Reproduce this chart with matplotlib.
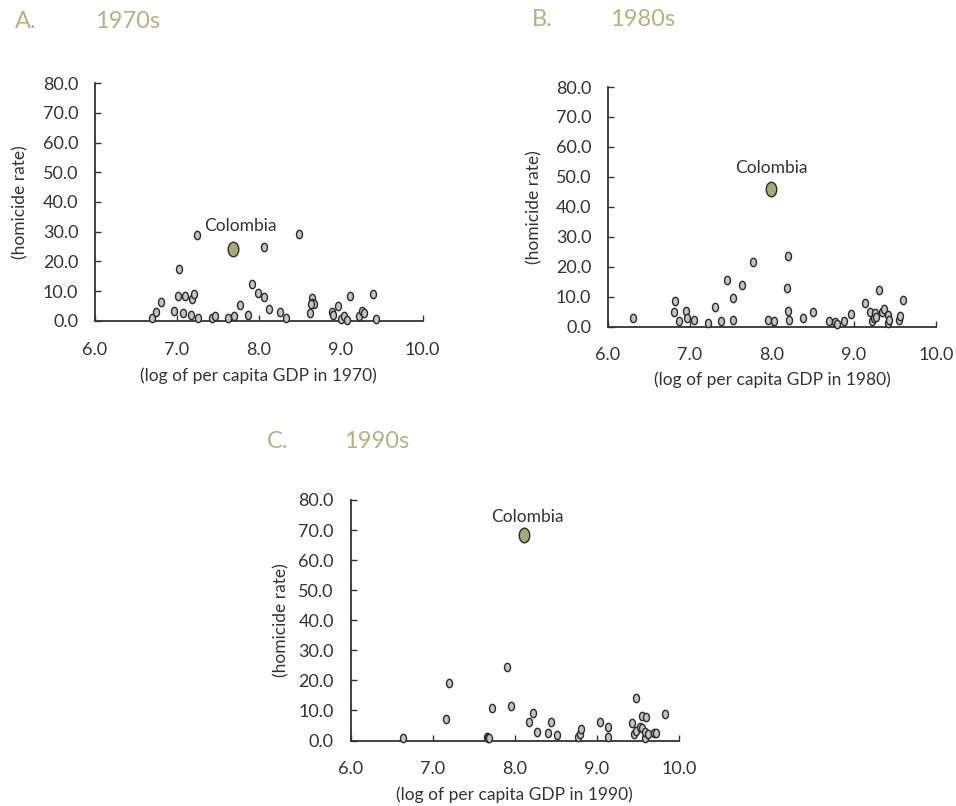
import matplotlib
matplotlib.use("Agg")
import matplotlib.pyplot as plt
from matplotlib.path import Path
from matplotlib.transforms import Affine2D

plt.rcParams['font.family'] = ['Lato', 'DejaVu Sans']

# ---------------- data ----------------
# Panel A: 1970s
gdp_1970 = [6.70, 6.74, 6.81, 6.96, 7.01, 7.02, 7.08, 7.10, 7.17, 7.19, 7.21, 7.24, 7.26,
            7.43, 7.47, 7.63, 7.70, 7.77, 7.87, 7.92, 7.99, 8.06, 8.07, 8.13, 8.26, 8.33,
            8.49, 8.62, 8.65, 8.65, 8.68, 8.64, 8.90, 8.91, 8.97, 9.01, 9.04, 9.08, 9.11,
            9.22, 9.26, 9.29, 9.39, 9.43]
hom_1970 = [1.0, 2.9, 6.2, 3.3, 8.4, 17.5, 2.5, 8.2, 1.9, 7.3, 9.0, 28.9, 0.9,
            0.8, 1.5, 0.8, 1.5, 5.3, 1.9, 12.2, 9.2, 7.9, 24.7, 3.8, 2.8, 0.9,
            29.1, 2.5, 7.7, 6.1, 5.7, 5.7, 3.0, 1.9, 4.8, 0.7, 1.6, 0.3, 8.3,
            1.6, 3.4, 2.5, 9.0, 0.6]
col_1970 = (7.69, 24.0)

# Panel B: 1980s
gdp_1980 = [6.30, 6.80, 6.82, 6.86, 6.95, 6.96, 7.05, 7.22, 7.30, 7.38, 7.45, 7.52, 7.52,
            7.63, 7.77, 7.95, 8.02, 8.18, 8.19, 8.19, 8.21, 8.38, 8.50, 8.69, 8.77, 8.79,
            8.88, 8.96, 9.14, 9.20, 9.22, 9.24, 9.26, 9.27, 9.31, 9.34, 9.37, 9.41, 9.42,
            9.43, 9.55, 9.56, 9.60]
hom_1980 = [2.7, 4.9, 8.4, 2.0, 5.1, 2.7, 2.2, 1.2, 6.5, 1.8, 15.4, 9.4, 2.2,
            13.8, 21.5, 2.3, 1.8, 12.9, 23.7, 5.1, 2.1, 2.7, 4.7, 1.9, 1.5, 0.9,
            1.9, 4.2, 7.7, 4.7, 1.7, 2.7, 4.5, 3.2, 12.3, 4.8, 5.7, 3.9, 1.3,
            2.2, 2.3, 3.5, 9.0]
col_1980 = (7.99, 45.8)

# Panel C: 1990s
gdp_1990 = [6.64, 7.16, 7.20, 7.66, 7.68, 7.69, 7.72, 7.90, 7.96, 8.17, 8.22, 8.27, 8.40,
            8.44, 8.52, 8.77, 8.80, 8.81, 9.04, 9.14, 9.14, 9.43, 9.48, 9.45, 9.48, 9.55,
            9.60, 9.53, 9.55, 9.58, 9.59, 9.62, 9.70, 9.72, 9.83]
hom_1990 = [0.9, 7.0, 19.2, 1.1, 0.9, 0.8, 10.8, 24.3, 11.6, 6.0, 9.0, 2.9, 2.4,
            6.0, 1.9, 1.2, 2.1, 3.9, 6.3, 1.3, 4.4, 5.8, 14.1, 2.0, 3.0, 8.3,
            7.7, 4.4, 4.2, 0.8, 2.8, 2.3, 2.6, 2.6, 8.8]
col_1990 = (8.11, 68.2)

x_ticks = [6.0, 7.0, 8.0, 9.0, 10.0]
y_ticks = [0, 10, 20, 30, 40, 50, 60, 70, 80]
letters = ["A.", "B.", "C."]
decades = ["1970s", "1980s", "1990s"]
xlabels = ["(log of per capita GDP in 1970)", "(log of per capita GDP in 1980)",
           "(log of per capita GDP in 1990)"]
ylabel = "(homicide rate)"
label_text = "Colombia"

# ---------------- style ----------------
W, H = 956, 806
fig = plt.figure(figsize=(W / 100, H / 100), dpi=100)

ell = Path.unit_circle().transformed(Affine2D().scale(0.72, 1.0))
TITLE_C = '#b3b47c'
TXT_C = '#333333'

def px(x, y):
    return x / W, 1 - y / H

panels = [
    dict(box=(95, 83.3, 422.5, 320.7), gx=gdp_1970, hy=hom_1970, col=col_1970,
         lab=(7.77, 32.0), title_y=22, letter_x=15, dec_x=95, ylab_x=20,
         xlab_y=376),
    dict(box=(608, 87, 936, 326.5), gx=gdp_1980, hy=hom_1980, col=col_1980,
         lab=(7.99, 52.8), title_y=20, letter_x=532, dec_x=610, ylab_x=534,
         xlab_y=380),
    dict(box=(350.5, 500, 679, 740.5), gx=gdp_1990, hy=hom_1990, col=col_1990,
         lab=(8.15, 74.2), title_y=442, letter_x=267, dec_x=344, ylab_x=281,
         xlab_y=795),
]

for i, p in enumerate(panels):
    x0, y0, x1, y1 = p['box']
    ax = fig.add_axes([x0 / W, 1 - y1 / H, (x1 - x0) / W, (y1 - y0) / H])
    ax.scatter(p['gx'], p['hy'], marker=ell, s=6 ** 2, facecolor='#c4c4c4',
               edgecolor='#2a2a2a', linewidths=1.0, clip_on=False, zorder=3)
    ax.scatter([p['col'][0]], [p['col'][1]], marker=ell, s=10.5 ** 2,
               facecolor='#a9a975', edgecolor='#2a2a2a', linewidths=1.0,
               clip_on=False, zorder=4)
    ax.text(p['lab'][0], p['lab'][1], label_text, ha='center', va='center',
            fontsize=12.5, color=TXT_C)
    ax.set_xlim(6, 10)
    ax.set_ylim(0, 80)
    ax.set_xticks(x_ticks)
    ax.set_xticklabels([f"{v:.1f}" for v in x_ticks])
    ax.set_yticks(y_ticks)
    ax.set_yticklabels([f"{v:.1f}" for v in y_ticks])
    for s in ['top', 'right']:
        ax.spines[s].set_visible(False)
    for s in ['left', 'bottom']:
        ax.spines[s].set_color('#333333')
        ax.spines[s].set_linewidth(1.3)
    ax.tick_params(direction='in', length=4, width=1.0, color='#333333',
                   labelsize=13, labelcolor=TXT_C)
    ax.tick_params(axis='x', pad=15)
    ax.tick_params(axis='y', pad=12)
    ax.patch.set_alpha(0)

    fig.text(*px(p['letter_x'], p['title_y']), letters[i], ha='left', va='center',
             fontsize=17, color=TITLE_C)
    fig.text(*px(p['dec_x'], p['title_y']), decades[i], ha='left', va='center',
             fontsize=17, color=TITLE_C)
    fig.text(*px(p['ylab_x'], (y0 + y1) / 2), ylabel, rotation=90, ha='center',
             va='center', fontsize=12.5, color=TXT_C)
    fig.text(*px((x0 + x1) / 2, p['xlab_y']), xlabels[i], ha='center',
             va='center', fontsize=12.5, color=TXT_C)

fig.savefig("out.png", dpi=100)
